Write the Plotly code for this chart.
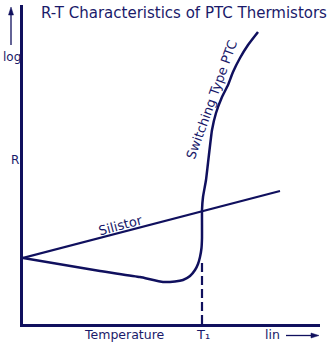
import plotly.graph_objects as go

# Data units: temperature (x) and log resistance (y), arbitrary scale
switch_T = [0, 77, 117, 140, 152, 160, 167, 172, 175, 177, 178.5, 179, 179, 179, 180, 183, 185, 189, 193, 199, 205, 210, 217, 225, 235]
switch_R = [66, 53, 47, 42, 42.5, 44, 48, 54, 60, 67, 76, 86, 99, 114, 127, 144, 161, 194, 211, 227, 239, 252, 266, 279, 292]
silistor_T = [0, 257]
silistor_R = [66, 133]
T1 = 179
T1_R = 62

X_MAX = 297
Y_MAX = 319

LINE = "#10105e"
TXT = "#1a1a6a"
FONT = "DejaVu Sans"

fig = go.Figure()
fig.add_trace(go.Scatter(x=silistor_T, y=silistor_R, mode="lines",
                         line=dict(color=LINE, width=2.2), hoverinfo="skip"))
fig.add_trace(go.Scatter(x=switch_T, y=switch_R, mode="lines",
                         line=dict(color=LINE, width=2.5, shape="spline", smoothing=0.4),
                         hoverinfo="skip"))
fig.add_trace(go.Scatter(x=[T1, T1], y=[0, T1_R], mode="lines",
                         line=dict(color=LINE, width=2.2, dash="9px,4px"), hoverinfo="skip"))

ann = []
def txt(x, y, s, size=12, angle=0):
    ann.append(dict(x=x / X_MAX, y=y / Y_MAX, xref="paper", yref="paper", text=s, showarrow=False,
                    xanchor="center", yanchor="middle",
                    textangle=angle, font=dict(family=FONT, size=size, color=TXT)))

txt(161, 311, "R-T Characteristics of PTC Thermistors", size=15)
txt(-11, 267, "log", size=12)
txt(-8, 164, "R", size=12)
txt(101, -10, "Temperature", size=12.5)
txt(180, -10, "T₁", size=13)
txt(249, -10, "lin", size=12.5)
txt(97, 99, "Silistor", size=13, angle=-15)
txt(188, 224, "Switching Type PTC", size=13, angle=-70)

def px(v):  # pixel x -> paper
    return (v - 23) / X_MAX
def py(v):  # pixel y -> paper
    return (324 - v) / Y_MAX

shapes = [
    # up arrow next to "log"
    dict(type="line", xref="paper", yref="paper", x0=px(11), x1=px(11), y0=py(45), y1=py(13),
         line=dict(color=LINE, width=1.3)),
    dict(type="path", xref="paper", yref="paper",
         path=f"M {px(11)},{py(7)} L {px(8.5)},{py(15)} L {px(13.5)},{py(15)} Z",
         fillcolor=LINE, line=dict(color=LINE, width=0.5)),
    # right arrow after "lin"
    dict(type="line", xref="paper", yref="paper", x0=px(286), x1=px(313), y0=py(335.5), y1=py(335.5),
         line=dict(color=LINE, width=1.3)),
    dict(type="path", xref="paper", yref="paper",
         path=f"M {px(319)},{py(335.5)} L {px(311)},{py(333)} L {px(311)},{py(338)} Z",
         fillcolor=LINE, line=dict(color=LINE, width=0.5)),
]

fig.update_layout(
    width=334, height=345,
    margin=dict(l=23, r=14, t=5, b=21),
    paper_bgcolor="white", plot_bgcolor="white",
    showlegend=False,
    annotations=ann,
    shapes=shapes,
    xaxis=dict(range=[0, X_MAX], showgrid=False, zeroline=False, showticklabels=False,
               ticks="", showline=True, linecolor=LINE, linewidth=2.5, fixedrange=True),
    yaxis=dict(range=[0, Y_MAX], showgrid=False, zeroline=False, showticklabels=False,
               ticks="", showline=True, linecolor=LINE, linewidth=2.5, fixedrange=True),
)
fig.write_html("out.html", config={"displayModeBar": False})
